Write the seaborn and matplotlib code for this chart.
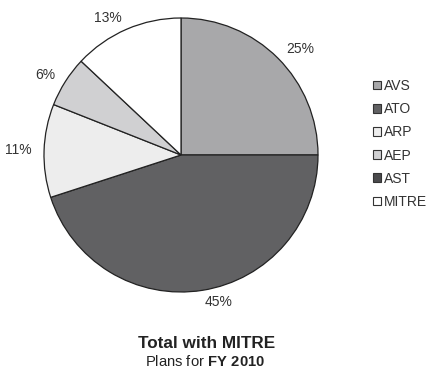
import matplotlib
matplotlib.use("Agg")
import matplotlib.pyplot as plt
import matplotlib.patches as mpatches
import seaborn as sns

# data
categories = ["AVS", "ATO", "ARP", "AEP", "AST", "MITRE"]
shares = [25, 45, 11, 6, 0, 13]
colors = ["#a8a8aa", "#616163", "#ededed", "#d0d0d2", "#4a4a4c", "#ffffff"]

sns.set_theme(style="white")
plt.rcParams['font.family'] = ['Liberation Sans', 'DejaVu Sans']
plt.rcParams['mathtext.fontset'] = 'custom'
plt.rcParams['mathtext.rm'] = 'Liberation Sans'
plt.rcParams['mathtext.bf'] = 'Liberation Sans:bold'

fig = plt.figure(figsize=(4.28, 3.73), dpi=100)
# pie centre ~(181,155) px, radius ~137 px
r_px = 137
span = 2.5 * r_px
ax = fig.add_axes([(181 - span / 2) / 428, (373 - 155 - span / 2) / 373, span / 428, span / 373])

# zero shares get no wedge
vals = [v for v in shares if v > 0]
cols = [c for v, c in zip(shares, colors) if v > 0]
labs = [f"{v}%" for v in vals]

ax.pie(vals, labels=labs, colors=cols, startangle=90, counterclock=False,
       labeldistance=1.09,
       wedgeprops=dict(edgecolor="#222222", linewidth=0.9),
       textprops=dict(fontsize=10, color="#333333"))
ax.set_xlim(-1.25, 1.25)
ax.set_ylim(-1.25, 1.25)
ax.set_aspect("equal")

handles = [mpatches.Patch(facecolor=c, edgecolor="#333333", linewidth=0.8) for c in colors]
fig.legend(handles, categories, loc="upper left",
           bbox_to_anchor=(373 / 428, 1 - 79 / 373),
           frameon=False, fontsize=10, handlelength=0.58, handleheight=0.58,
           handletextpad=0.22, labelspacing=0.66, borderpad=0, borderaxespad=0,
           labelcolor="#333333")

fig.text(207 / 428, 1 - 344 / 373, "Total with MITRE", ha="center", va="center",
         fontsize=12.3, fontweight="bold", color="#222222")
fig.text(205 / 428, 1 - 362 / 373, r"Plans for $\mathbf{FY\ 2010}$", ha="center", va="center",
         fontsize=10.6, color="#222222")

fig.savefig("out.png", dpi=100)
